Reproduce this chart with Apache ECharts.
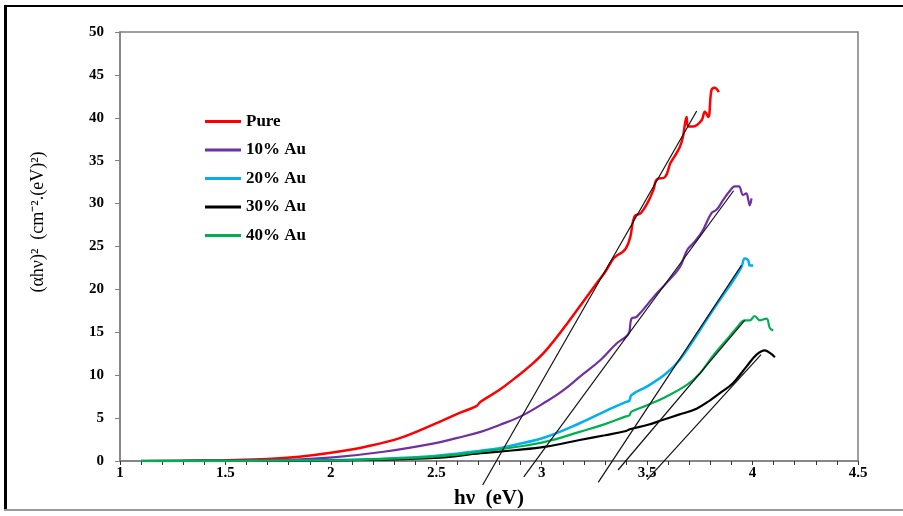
<!DOCTYPE html>
<html>
<head>
<meta charset="utf-8">
<script src="https://cdn.jsdelivr.net/npm/echarts@6/dist/echarts.min.js"></script>
<style>html,body{margin:0;padding:0;background:#fff}#c{width:903px;height:516px}</style>
</head>
<body>
<div id="c"></div>
<script>
// ---- data ----
var seriesNames = ['Pure', '10% Au', '20% Au', '30% Au', '40% Au'];
var xTicks = [1, 1.5, 2, 2.5, 3, 3.5, 4, 4.5];
var yTicks = [0, 5, 10, 15, 20, 25, 30, 35, 40, 45, 50];

var pure = [[1.1,0],[1.3,0.02],[1.5,0.1],[1.7,0.24],[1.85,0.5],[2.0,0.95],[2.17,1.7],[2.33,2.7],[2.49,4.3],[2.6,5.5],[2.69,6.4],[2.71,6.9],[2.8,8.3],[2.87,9.6],[2.95,11.2],[3.02,12.9],[3.12,16.0],[3.18,18.0],[3.26,20.7],[3.3,22.0],[3.34,23.6],[3.36,24.0],[3.38,24.3],[3.40,24.8],[3.42,26.1],[3.44,28.5],[3.47,28.9],[3.5,30.0],[3.53,31.6],[3.545,32.8],[3.585,33.1],[3.61,34.7],[3.63,35.5],[3.655,36.6],[3.67,37.8],[3.687,40.1],[3.695,39.0],[3.72,39.0],[3.758,39.7],[3.774,40.7],[3.79,40.1],[3.805,43.2],[3.82,43.5],[3.84,43.0]];
var au10 = [[1.1,0],[1.5,0.03],[1.77,0.12],[2.01,0.43],[2.25,1.08],[2.49,2.06],[2.6,2.7],[2.71,3.4],[2.8,4.2],[2.9,5.2],[3.02,6.9],[3.1,8.2],[3.18,9.8],[3.28,11.8],[3.355,13.7],[3.40,14.5],[3.415,15.0],[3.426,16.6],[3.45,16.8],[3.53,19.1],[3.59,20.7],[3.655,22.6],[3.69,24.6],[3.72,25.4],[3.76,26.7],[3.805,28.9],[3.83,29.3],[3.86,30.4],[3.89,31.4],[3.916,32.0],[3.935,32.0],[3.955,31.0],[3.97,31.2],[3.98,30.4],[3.987,29.8],[3.995,30.6]];
var au20 = [[1.1,0],[1.6,0.02],[2.0,0.1],[2.17,0.2],[2.49,0.58],[2.71,1.2],[2.8,1.5],[2.87,1.86],[3.02,2.8],[3.18,4.4],[3.31,5.9],[3.40,6.9],[3.415,7.0],[3.426,7.7],[3.5,8.7],[3.59,10.2],[3.655,11.8],[3.72,14.1],[3.78,16.4],[3.845,18.8],[3.91,21.1],[3.947,22.6],[3.963,23.6],[3.979,23.4],[3.987,22.8],[4.003,22.8]];
var au30 = [[1.1,0],[1.6,0.01],[2.0,0.06],[2.2,0.15],[2.49,0.35],[2.71,0.9],[2.87,1.25],[3.02,1.67],[3.18,2.45],[3.30,3.0],[3.40,3.5],[3.418,3.7],[3.5,4.2],[3.576,4.8],[3.65,5.4],[3.734,6.1],[3.80,7.1],[3.845,7.9],[3.908,9.1],[3.971,11.0],[4.019,12.4],[4.058,12.9],[4.082,12.6],[4.106,12.1]];
var au40 = [[1.1,0],[1.6,0.02],[2.0,0.08],[2.17,0.17],[2.49,0.5],[2.71,1.08],[2.87,1.6],[3.02,2.25],[3.18,3.4],[3.30,4.3],[3.40,5.2],[3.415,5.3],[3.426,5.75],[3.5,6.5],[3.59,7.5],[3.69,8.9],[3.75,10.2],[3.81,12.2],[3.876,14.1],[3.924,15.5],[3.963,16.4],[3.987,16.4],[4.01,16.9],[4.035,16.4],[4.066,16.6],[4.082,15.5],[4.098,15.2]];

// tangent (Tauc) lines: two end points each
var tangentPure = [[2.72,-2.8],[3.735,40.8]];
var tangent10 = [[2.915,-1.85],[3.91,31.5]];
var tangent20 = [[3.268,-2.5],[3.947,22.8]];
var tangent40 = [[3.362,-1.05],[3.963,16.4]];
var tangent30 = [[3.50,-2.16],[4.04,12.4]];

var colors = ['#FF0000', '#7030A0', '#00B0F0', '#000000', '#00B050'];
var curveData = [pure, au10, au20, au30, au40];
var widths = [2.5, 2.2, 2.5, 2.2, 2.2];
var tangents = [tangentPure, tangent10, tangent20, tangent40, tangent30];

var serif = '"Liberation Serif", "Times New Roman", serif';
var chart = echarts.init(document.getElementById('c'), null, {renderer: 'canvas'});

var series = [];
curveData.forEach(function (d, i) {
  series.push({
    name: seriesNames[i], type: 'line', data: d, symbol: 'none', showSymbol: false,
    smooth: 0.4,
    lineStyle: {color: colors[i], width: widths[i]}, itemStyle: {color: colors[i]},
    z: 2, animation: false
  });
});
tangents.forEach(function (d) {
  series.push({
    type: 'line', data: d, symbol: 'none', clip: false, silent: true,
    lineStyle: {color: '#111', width: 1.2}, z: 3, animation: false
  });
});

chart.setOption({
  animation: false,
  backgroundColor: '#fff',
  grid: {left: 120, right: 45, top: 32, bottom: 55, show: true, borderColor: '#7f7f7f', borderWidth: 1.5,
    containLabel: false, outerBoundsMode: 'none'},
  legend: {
    data: seriesNames, orient: 'vertical', left: 200, top: 108,
    itemWidth: 36, itemHeight: 3, itemGap: 11.5, icon: 'rect',
    textStyle: {fontFamily: serif, fontWeight: 'bold', fontSize: 17, color: '#000', lineHeight: 17}
  },
  xAxis: {
    type: 'value', min: xTicks[0], max: xTicks[xTicks.length - 1], interval: 0.5,
    name: 'hν  (eV)', nameLocation: 'middle', nameGap: 27,
    nameTextStyle: {fontFamily: serif, fontWeight: 'bold', fontSize: 21, color: '#000'},
    axisLine: {show: true, lineStyle: {color: '#7f7f7f', width: 1.5}},
    axisTick: {show: true, inside: false, length: 4, lineStyle: {color: '#333', width: 1}},
    minorTick: {show: true, splitNumber: 5, length: 4, lineStyle: {color: '#333', width: 1}},
    splitLine: {show: false},
    axisLabel: {fontFamily: serif, fontWeight: 'bold', fontSize: 15, color: '#000', margin: 5,
      formatter: function (v) { return String(v); }}
  },
  yAxis: {
    type: 'value', min: yTicks[0], max: yTicks[yTicks.length - 1], interval: 5,
    axisLine: {show: true, lineStyle: {color: '#7f7f7f', width: 1.5}},
    axisTick: {show: true, inside: false, length: 5, lineStyle: {color: '#7f7f7f', width: 1}},
    splitLine: {show: false},
    axisLabel: {fontFamily: serif, fontWeight: 'bold', fontSize: 15, color: '#000', margin: 16}
  },
  graphic: [
    {type: 'text', x: 38, y: 222, rotation: Math.PI / 2,
      style: {text: '(αhν)²  (cm⁻².(eV)²)', font: '18px ' + serif, fill: '#000', align: 'center', verticalAlign: 'middle'}},
    {type: 'rect', shape: {x: 4, y: 5, width: 903, height: 2}, style: {fill: '#000'}},
    {type: 'rect', shape: {x: 4, y: 5, width: 3, height: 505}, style: {fill: '#000'}},
    {type: 'rect', shape: {x: 4, y: 509, width: 903, height: 2}, style: {fill: '#9a9a9a'}}
  ],
  series: series
});
</script>
</body>
</html>
